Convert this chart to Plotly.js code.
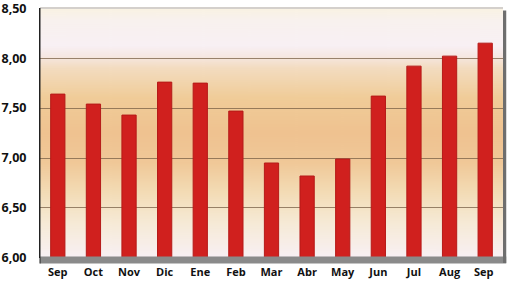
<!DOCTYPE html>
<html>
<head>
<meta charset="utf-8">
<script src="https://cdn.plot.ly/plotly-3.0.1.min.js"></script>
<style>html,body{margin:0;padding:0;background:#fff;}#chart{width:509px;height:283px;}</style>
</head>
<body>
<div id="chart"></div>
<script>
const months = ["Sep","Oct","Nov","Dic","Ene","Feb","Mar","Abr","May","Jun","Jul","Aug","Sep "];
const values = [7.64, 7.54, 7.43, 7.76, 7.75, 7.47, 6.95, 6.82, 6.99, 7.62, 7.92, 8.02, 8.15];
const yTicks = [6.0, 6.5, 7.0, 7.5, 8.0, 8.5];

function gradientImage() {
  const c = document.createElement('canvas');
  c.width = 10; c.height = 250;
  const g = c.getContext('2d');
  const lg = g.createLinearGradient(0, 0, 0, 250);
  lg.addColorStop(0.00, '#f9f2e2');
  lg.addColorStop(0.05, '#f8f1ee');
  lg.addColorStop(0.15, '#f8f0f4');
  lg.addColorStop(0.19, '#f6e8e4');
  lg.addColorStop(0.24, '#f3dcc0');
  lg.addColorStop(0.36, '#f0cc98');
  lg.addColorStop(0.50, '#efc290');
  lg.addColorStop(0.62, '#f0c898');
  lg.addColorStop(0.74, '#f3dcb6');
  lg.addColorStop(0.86, '#f6ead6');
  lg.addColorStop(1.00, '#f8f0f4');
  g.fillStyle = lg;
  g.fillRect(0, 0, 10, 250);
  return c.toDataURL('image/png');
}

const trace = {
  type: 'bar',
  x: months,
  y: values,
  marker: {color: '#d0201e', line: {color: '#b51a18', width: 1}},
  hoverinfo: 'skip'
};

const layout = {
  width: 509, height: 283,
  margin: {l: 40, r: 6, t: 8, b: 25},
  paper_bgcolor: '#ffffff',
  plot_bgcolor: 'rgba(0,0,0,0)',
  separators: ',.',
  bargap: 0.6,
  showlegend: false,
  font: {family: 'Open Sans, sans-serif', color: '#111'},
  xaxis: {
    type: 'category',
    tickfont: {size: 11, family: 'Open Sans', weight: 'bold', color: '#111'},
    showgrid: false, zeroline: false, showline: false,
    ticks: '', ticklabelstandoff: 6
  },
  yaxis: {
    range: [5.999, 8.502],
    tickvals: yTicks,
    tickformat: '.2f',
    tickfont: {size: 12.5, family: 'Open Sans', weight: 'bold', color: '#111'},
    showgrid: true, gridcolor: 'rgba(120,95,70,0.75)', gridwidth: 1,
    zeroline: false, showline: true, linecolor: '#222', linewidth: 1,
    ticks: '', ticklabelstandoff: 10, ticklabeloverflow: 'allow'
  },
  images: [{
    source: gradientImage(),
    xref: 'paper', yref: 'paper', x: 0, y: 1, sizex: 1, sizey: 1,
    sizing: 'stretch', layer: 'below', xanchor: 'left', yanchor: 'top'
  }],
  shapes: [
    {type: 'rect', xref: 'paper', yref: 'paper', x0: 0, x1: 1.007, y0: -0.022, y1: 0.006,
     fillcolor: '#8a8a8a', line: {width: 0}, layer: 'above'},
    {type: 'rect', xref: 'paper', yref: 'paper', x0: 1, x1: 1.007, y0: -0.02, y1: 0.99,
     fillcolor: '#6e6e6e', line: {width: 0}, layer: 'above'},
    {type: 'line', xref: 'paper', yref: 'paper', x0: 0, x1: 1, y0: 1, y1: 1,
     line: {color: '#d4d0cc', width: 2}, layer: 'above'},
    {type: 'line', xref: 'paper', yref: 'paper', x0: 0, x1: 0, y0: -0.022, y1: 1,
     line: {color: '#222', width: 1}, layer: 'above'}
  ]
};

Plotly.newPlot('chart', [trace], layout, {displayModeBar: false, staticPlot: true});
</script>
</body>
</html>
